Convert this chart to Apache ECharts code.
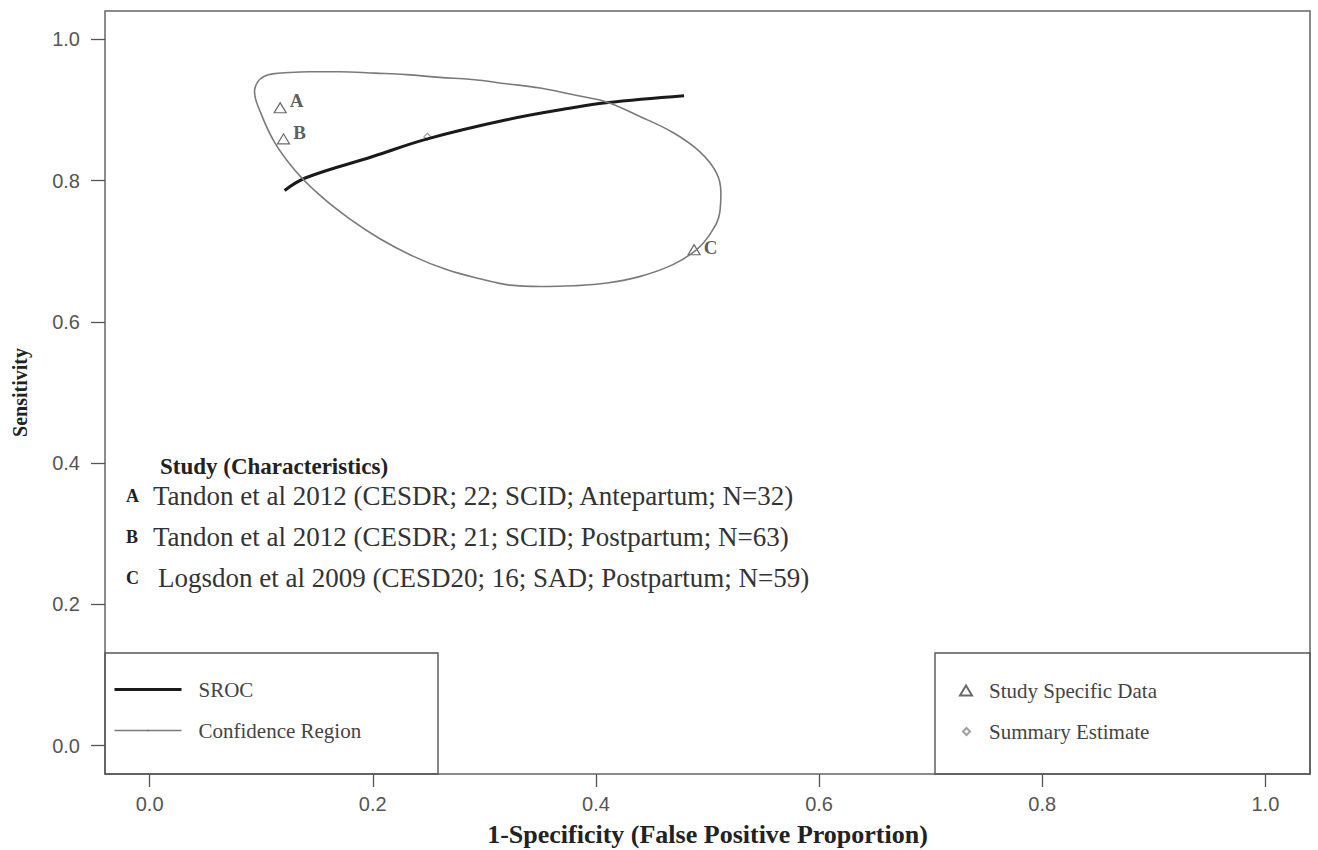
<!DOCTYPE html>
<html>
<head>
    <meta charset="utf-8">
    <title>SROC</title>
    <script src="https://cdn.jsdelivr.net/npm/echarts@6/dist/echarts.min.js"></script>
    <style>
        html, body { margin: 0; padding: 0; background: #fff; }
    </style>
</head>
<body>
<div id="main" style="width: 1318px;height:850px;"></div>
<script type="text/javascript">
    // SROC curve (1-specificity, sensitivity)
    var srocX = [0.121, 0.140, 0.200, 0.249, 0.320, 0.379, 0.409, 0.479];
    var srocY = [0.786, 0.804, 0.834, 0.859, 0.886, 0.903, 0.910, 0.920];

    // confidence region outline, read around the curve starting at its lowest point
    var regionX = [0.350, 0.323, 0.296, 0.266, 0.236, 0.206, 0.179, 0.152, 0.130, 0.112, 0.0995, 0.094,
        0.097, 0.102, 0.110, 0.125, 0.143, 0.170, 0.202, 0.230, 0.260, 0.289, 0.320, 0.350, 0.381,
        0.410, 0.439, 0.469, 0.493, 0.508, 0.512, 0.511, 0.503, 0.490, 0.469, 0.439, 0.410, 0.379, 0.350];
    var regionY = [0.650, 0.652, 0.661, 0.674, 0.693, 0.718, 0.746, 0.780, 0.815, 0.854, 0.896, 0.926,
        0.940, 0.947, 0.951, 0.953, 0.954, 0.954, 0.952, 0.950, 0.946, 0.943, 0.937, 0.931, 0.921,
        0.911, 0.891, 0.868, 0.841, 0.811, 0.783, 0.755, 0.726, 0.702, 0.681, 0.664, 0.655, 0.651, 0.650];

    // study specific points
    var studyNames = ['A', 'B', 'C'];
    var studyX = [0.117, 0.120, 0.488];
    var studyY = [0.903, 0.859, 0.702];
    var studyRows = [
        'Tandon et al 2012 (CESDR; 22; SCID; Antepartum; N=32)',
        'Tandon et al 2012 (CESDR; 21; SCID; Postpartum; N=63)',
        'Logsdon et al 2009 (CESD20; 16; SAD; Postpartum; N=59)'
    ];

    // summary estimate
    var summaryX = [0.249];
    var summaryY = [0.862];

    var xTicks = [0, 0.2, 0.4, 0.6, 0.8, 1.0];
    var yTicks = [0, 0.2, 0.4, 0.6, 0.8, 1.0];

    function pairs(xs, ys) {
        return xs.map(function (x, i) { return [x, ys[i]]; });
    }

    var serif = '"Liberation Serif", "Times New Roman", serif';
    var sans = '"Liberation Sans", Arial, sans-serif';

    var labelLift = [-7, -6, -2];
    var studyData = studyX.map(function (x, i) {
        return {
            value: [x, studyY[i]],
            name: studyNames[i],
            label: { offset: [-2, labelLift[i]] }
        };
    });

    var myChart = echarts.init(document.getElementById('main'), null, { renderer: 'svg' });

    // text block for the studies
    var rowTop = 496, rowStep = 41;
    var textBlock = [{
        type: 'text', x: 160, y: 466,
        style: { text: 'Study (Characteristics)', fontFamily: serif, fontWeight: 'bold', fontSize: 23, fill: '#222', verticalAlign: 'middle' }
    }];
    studyRows.forEach(function (t, i) {
        textBlock.push({
            type: 'text', x: 126, y: rowTop + i * rowStep,
            style: { text: studyNames[i], fontFamily: serif, fontWeight: 'bold', fontSize: 18, fill: '#222', verticalAlign: 'middle' }
        });
        textBlock.push({
            type: 'text', x: i === 2 ? 158 : 153, y: rowTop + i * rowStep,
            style: { text: t, fontFamily: serif, fontSize: 27, fill: '#333', verticalAlign: 'middle' }
        });
    });

    var legendText = { fontFamily: serif, fontSize: 21, color: '#444', lineHeight: 20 };

    var option = {
        backgroundColor: '#fff',
        animation: false,
        grid: {
            left: 105, right: 8, top: 11, bottom: 76,
            show: true, borderColor: '#666', borderWidth: 1.5,
            outerBoundsMode: 'none'
        },
        xAxis: {
            type: 'value', min: -0.04, max: 1.04,
            splitLine: { show: false },
            axisLine: { show: false, onZero: false },
            axisTick: { show: true, inside: false, customValues: xTicks, length: 13, lineStyle: { color: '#555', width: 1.3 } },
            axisLabel: {
                customValues: xTicks, margin: 20, color: '#555', fontFamily: sans, fontSize: 20,
                formatter: function (v) { return v.toFixed(1); }
            },
            name: '1-Specificity (False Positive Proportion)',
            nameLocation: 'middle', nameGap: 47,
            nameTextStyle: { fontFamily: serif, fontWeight: 'bold', fontSize: 26, color: '#222' }
        },
        yAxis: {
            type: 'value', min: -0.04, max: 1.04,
            splitLine: { show: false },
            axisLine: { show: false, onZero: false },
            axisTick: { show: true, inside: false, customValues: yTicks, length: 14, lineStyle: { color: '#555', width: 1.3 } },
            axisLabel: {
                customValues: yTicks, margin: 25, color: '#555', fontFamily: sans, fontSize: 20,
                formatter: function (v) { return v.toFixed(1); }
            },
            name: 'Sensitivity',
            nameLocation: 'middle', nameGap: 75,
            nameTextStyle: { fontFamily: serif, fontWeight: 'bold', fontSize: 20, color: '#222' }
        },
        legend: [{
            data: [{ name: 'SROC', lineStyle: { width: 3 } }, { name: 'Confidence Region', lineStyle: { width: 1.5 } }],
            orient: 'vertical', left: 113, top: 679, padding: 0,
            itemWidth: 67, itemHeight: 2, itemGap: 20, selectedMode: false,
            textStyle: Object.assign({ padding: [0, 0, 0, 12] }, legendText)
        }, {
            data: ['Study Specific Data'],
            left: 959, top: 680, padding: 0,
            itemWidth: 12, itemHeight: 10, selectedMode: false,
            textStyle: Object.assign({ padding: [0, 0, 0, 12] }, legendText)
        }, {
            data: ['Summary Estimate'],
            left: 962, top: 721, padding: 0,
            itemWidth: 7, itemHeight: 7, selectedMode: false,
            textStyle: Object.assign({ padding: [0, 0, 0, 14] }, legendText)
        }],
        graphic: [{
            type: 'rect', shape: { x: 105, y: 653, width: 333, height: 121 },
            style: { fill: 'none', stroke: '#555', lineWidth: 1.4 }, z: 10
        }, {
            type: 'rect', shape: { x: 935, y: 653, width: 375, height: 121 },
            style: { fill: 'none', stroke: '#555', lineWidth: 1.4 }, z: 10
        }].concat(textBlock),
        series: [{
            name: 'SROC', type: 'line', data: pairs(srocX, srocY),
            smooth: 0.4, symbol: 'none',
            lineStyle: { color: '#1a1a1a', width: 3 }, itemStyle: { color: '#1a1a1a' }
        }, {
            name: 'Confidence Region', type: 'line', data: pairs(regionX, regionY),
            smooth: 0.4, symbol: 'none',
            lineStyle: { color: '#7a7a7a', width: 1.6 }, itemStyle: { color: '#7a7a7a' }
        }, {
            name: 'Study Specific Data', type: 'scatter', data: studyData,
            symbol: 'triangle', symbolSize: [12, 10],
            itemStyle: { color: 'rgba(0,0,0,0)', borderColor: '#444', borderWidth: 1.2 },
            label: {
                show: true, position: 'right', formatter: '{b}',
                fontFamily: serif, fontWeight: 'bold', fontSize: 19, color: '#333'
            }
        }, {
            name: 'Summary Estimate', type: 'scatter', data: pairs(summaryX, summaryY),
            symbol: 'diamond', symbolSize: 7,
            itemStyle: { color: 'rgba(0,0,0,0)', borderColor: '#888', borderWidth: 1.2 }
        }]
    };

    myChart.setOption(option);
</script>
</body>
</html>
